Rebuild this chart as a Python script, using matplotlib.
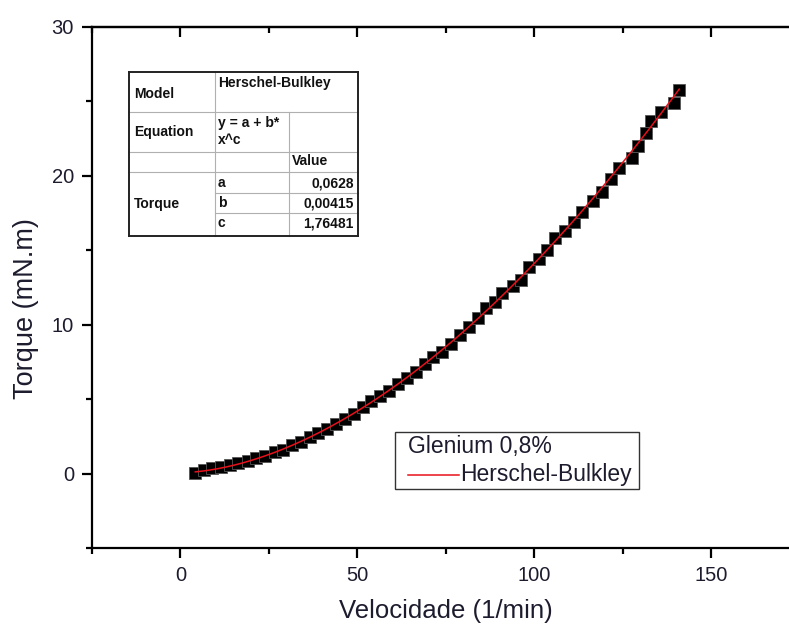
import numpy as np
import matplotlib
matplotlib.use("Agg")
import matplotlib.pyplot as plt
from matplotlib.lines import Line2D
from matplotlib.patches import Rectangle

plt.rcParams['font.family'] = ['Liberation Sans', 'DejaVu Sans']

# ---- data ----
velocidade = [4.2, 6.6, 9.0, 11.6, 14.0, 16.4, 19.0, 21.5, 24.0, 26.6, 29.0, 31.5,
              34.0, 36.6, 39.0, 41.5, 44.0, 46.5, 49.0, 51.5, 54.0, 56.5, 59.0, 61.6,
              64.0, 66.5, 69.0, 71.5, 74.0, 76.5, 79.0, 81.5, 84.0, 86.5, 89.0, 91.0,
              94.0, 96.3, 98.5, 101.5, 103.6, 105.8, 108.6, 111.2, 113.5, 116.6, 119.2,
              121.6, 124.0, 127.6, 129.4, 131.6, 132.9, 135.8, 139.4, 141.0]
torque = [0.02, 0.25, 0.35, 0.45, 0.6, 0.7, 0.85, 1.05, 1.2, 1.45, 1.6, 1.9,
          2.1, 2.45, 2.7, 3.0, 3.35, 3.65, 4.0, 4.45, 4.85, 5.2, 5.55, 6.0,
          6.45, 6.85, 7.35, 7.85, 8.2, 8.7, 9.3, 9.85, 10.45, 11.1, 11.5, 12.1,
          12.6, 13.0, 13.9, 14.4, 15.0, 15.8, 16.3, 16.9, 17.6, 18.3, 18.9,
          19.8, 20.5, 21.2, 22.0, 22.9, 23.7, 24.3, 24.9, 25.8]
fit_a, fit_b, fit_c = 0.0628, 0.00415, 1.76481
xticks = [0, 50, 100, 150]
yticks = [0, 10, 20, 30]

W, H = 789, 626
fig = plt.figure(figsize=(W / 100, H / 100), dpi=100)

def fx(px):
    return px / W

def fy(py):
    return 1 - py / H

ax_l, ax_r, ax_t, ax_b = 92, 799.5, 27, 548
ax = fig.add_axes([fx(ax_l), fy(ax_b), (ax_r - ax_l) / W, (ax_b - ax_t) / H])
ax.set_xlim(-25, 175)
ax.set_ylim(-5, 30)

tc = '#1c1c2e'
fit_color = '#e8101a'
ax.plot(velocidade, torque, linestyle='none', marker='s', markersize=8.8,
        markerfacecolor='black', markeredgecolor='#555555', markeredgewidth=0.6, zorder=2)
xf = np.linspace(min(velocidade), max(velocidade), 300)
yf = fit_a + fit_b * xf ** fit_c
ax.plot(xf, yf, color=fit_color, linewidth=1.1, zorder=3)

for s in ['left', 'bottom', 'top']:
    ax.spines[s].set_linewidth(1.6)
    ax.spines[s].set_color('black')
ax.spines['right'].set_visible(False)

ax.set_xticks(xticks)
ax.set_yticks(yticks)
ax.set_xticks([-25, 25, 75, 125, 175], minor=True)
ax.set_yticks([-5, 5, 15, 25], minor=True)
ax.tick_params(axis='both', which='major', direction='out', length=7, width=1.6,
               labelsize=14.5, labelcolor=tc, pad=6)
ax.tick_params(axis='both', which='minor', direction='out', length=4, width=1.6)
ax.tick_params(axis='y', right=False)

sec = ax.secondary_xaxis('top')
sec.set_xticks(xticks)
sec.set_xticks([-25, 25, 75, 125, 175], minor=True)
sec.tick_params(axis='x', which='major', direction='in', length=7, width=1.6, labeltop=False)
sec.tick_params(axis='x', which='minor', direction='in', length=4, width=1.6)
sec.spines['top'].set_linewidth(1.6)

ax.set_xlabel('Velocidade (1/min)', fontsize=18.5, color=tc, labelpad=10)
ax.set_ylabel('Torque (mN.m)', fontsize=19.5, color=tc)
ax.yaxis.set_label_coords((39 - ax_l) / (ax_r - ax_l), (ax_b - 309) / (ax_b - ax_t))

# legend (drawn as a framed box)
fig.add_artist(Rectangle((fx(395), fy(489)), (639 - 395) / W, (489 - 432) / H,
                         facecolor='white', edgecolor='#333333', linewidth=1.0, zorder=5))
fig.text(fx(408), fy(447), 'Glenium 0,8%', fontsize=16.5, color=tc, ha='left', va='center', zorder=6)
fig.add_artist(Line2D([fx(408), fx(459)], [fy(475), fy(475)], color=fit_color, lw=1.1, zorder=6))
fig.text(fx(460), fy(475), 'Herschel-Bulkley', fontsize=16.5, color=tc, ha='left', va='center', zorder=6)

# parameter table
tl, tr, tt, tb = 129, 358, 72, 236
c1, c2 = 215, 289
r1, r2, r3, r4, r5 = 112, 152, 172, 193, 213
grey = '#b0b0b0'

def hline(y, x0, x1, color=grey, lw=0.8):
    fig.add_artist(Line2D([fx(x0), fx(x1)], [fy(y), fy(y)], color=color, lw=lw))

def vline(x, y0, y1, color=grey, lw=0.8):
    fig.add_artist(Line2D([fx(x), fx(x)], [fy(y0), fy(y1)], color=color, lw=lw))

hline(r1, tl, tr)
hline(r2, tl, tr)
hline(r3, tl, tr)
hline(r4, c1, tr)
hline(r5, c1, tr)
vline(c1, tt, tb)
vline(c2, r1, tb)
# outer frame
hline(tt, tl, tr, '#222222', 1.4)
hline(tb, tl, tr, '#222222', 1.4)
vline(tl, tt, tb, '#222222', 1.4)
vline(tr, tt, tb, '#222222', 1.4)

tkw = dict(fontsize=10, fontweight='bold', color='#111111')

def ttext(x, y, s, ha='left', va='center'):
    fig.text(fx(x), fy(y), s, ha=ha, va=va, **tkw)

ttext(134, 94, 'Model')
ttext(218, 83, 'Herschel-Bulkley')
ttext(134, 132, 'Equation')
ttext(218, 123, 'y = a + b*')
ttext(218, 140, 'x^c')
ttext(292, 161, 'Value')
ttext(134, 204, 'Torque')
ttext(218, 183, 'a')
ttext(218, 203, 'b')
ttext(218, 223, 'c')
ttext(354, 183, '0,0628', ha='right')
ttext(354, 203, '0,00415', ha='right')
ttext(354, 223, '1,76481', ha='right')

fig.savefig('out.png', dpi=100)
